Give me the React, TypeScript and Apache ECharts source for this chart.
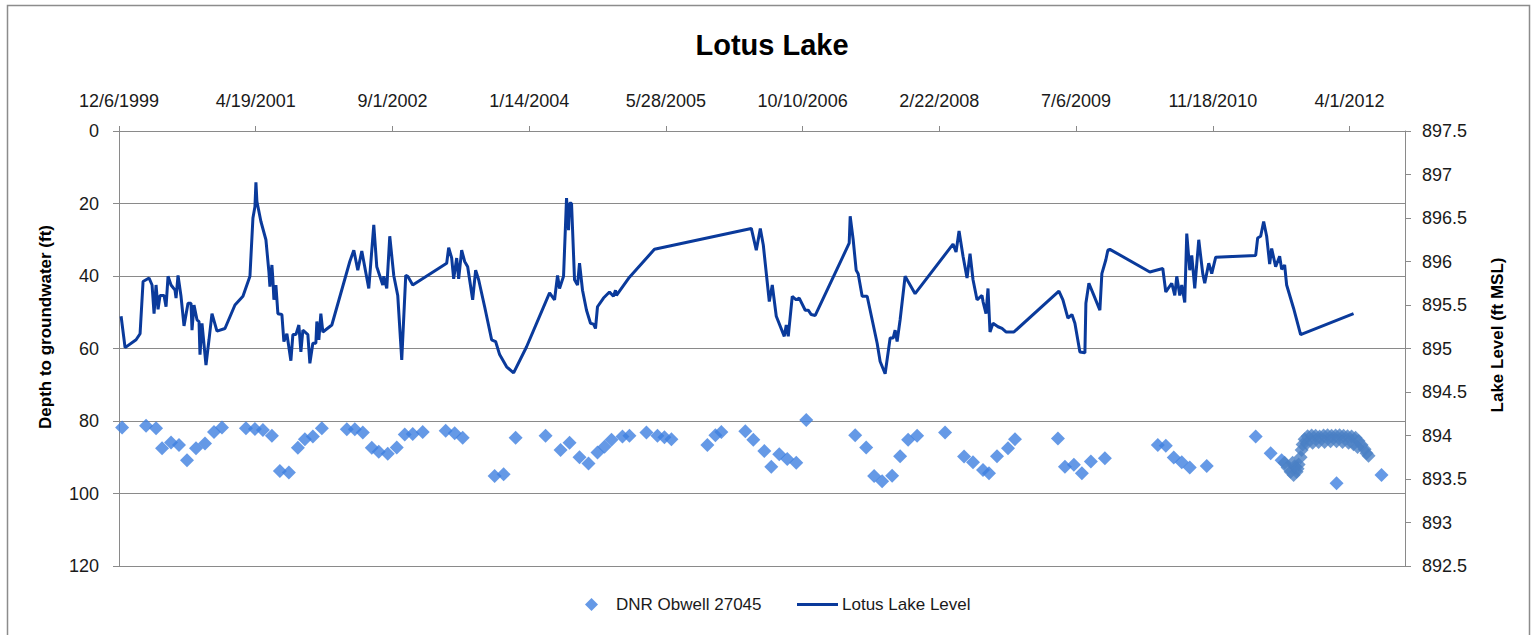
import React, { useEffect, useRef } from 'react';
import * as echarts from 'echarts';

// ---- axis settings (Excel serial dates on the date axis) ----
const dateAxisMin = 36500; // 12/6/1999
const dateAxisMax = 41203;
const dateAxisStep = 500;
const depthMin = 0;
const depthMax = 120;
const depthStep = 20;
const levelMin = 892.5;
const levelMax = 897.5;
const levelStep = 0.5;

// ---- Lotus Lake level (decimal year, ft MSL) ----
const lakeYears = [
  1999.95, 1999.99, 2000.10, 2000.14, 2000.17, 2000.23, 2000.26, 2000.28, 2000.30, 2000.32,
  2000.34, 2000.38, 2000.40, 2000.42, 2000.45, 2000.49, 2000.50, 2000.52, 2000.55, 2000.58,
  2000.62, 2000.65, 2000.66, 2000.68, 2000.71, 2000.73, 2000.74, 2000.76, 2000.80, 2000.83,
  2000.86, 2000.91, 2000.99, 2001.09, 2001.17, 2001.24, 2001.27, 2001.29, 2001.30, 2001.31,
  2001.35, 2001.40, 2001.43, 2001.44, 2001.46, 2001.47, 2001.48, 2001.50, 2001.52, 2001.56,
  2001.58, 2001.61, 2001.65, 2001.67, 2001.70, 2001.73, 2001.75, 2001.77, 2001.82, 2001.84,
  2001.87, 2001.90, 2001.91, 2001.93, 2001.95, 2001.97, 2002.06, 2002.24, 2002.28, 2002.32,
  2002.36, 2002.43, 2002.48, 2002.51, 2002.57, 2002.58, 2002.61, 2002.64, 2002.68, 2002.72,
  2002.76, 2002.80, 2002.82, 2002.87, 2003.21, 2003.23, 2003.26, 2003.28, 2003.31, 2003.33,
  2003.36, 2003.39, 2003.42, 2003.47, 2003.50, 2003.53, 2003.59, 2003.66, 2003.70, 2003.74,
  2003.81, 2003.88, 2004.01, 2004.24, 2004.29, 2004.32, 2004.34, 2004.38, 2004.41, 2004.43,
  2004.44, 2004.46, 2004.49, 2004.52, 2004.54, 2004.57, 2004.61, 2004.65, 2004.68, 2004.70,
  2004.72, 2004.78, 2004.84, 2004.88, 2004.90, 2004.91, 2005.04, 2005.29, 2006.26, 2006.31,
  2006.35, 2006.38, 2006.44, 2006.47, 2006.51, 2006.59, 2006.61, 2006.63, 2006.67, 2006.71,
  2006.74, 2006.80, 2006.83, 2006.86, 2006.90, 2007.24, 2007.25, 2007.28, 2007.31, 2007.33,
  2007.37, 2007.42, 2007.52, 2007.55, 2007.60, 2007.65, 2007.68, 2007.70, 2007.72, 2007.75,
  2007.80, 2007.90, 2008.28, 2008.31, 2008.34, 2008.38, 2008.42, 2008.45, 2008.48, 2008.52,
  2008.57, 2008.58, 2008.61, 2008.63, 2008.65, 2008.68, 2008.73, 2008.77, 2008.81, 2008.89,
  2009.34, 2009.38, 2009.43, 2009.47, 2009.50, 2009.55, 2009.60, 2009.61, 2009.64, 2009.69,
  2009.75, 2009.77, 2009.81, 2009.83, 2009.85, 2010.25, 2010.38, 2010.41, 2010.47, 2010.50,
  2010.52, 2010.55, 2010.57, 2010.60, 2010.62, 2010.65, 2010.67, 2010.70, 2010.74, 2010.78,
  2010.80, 2010.84, 2010.87, 2010.91, 2011.31, 2011.33, 2011.36, 2011.39, 2011.42, 2011.45,
  2011.47, 2011.51, 2011.55, 2011.57, 2011.60, 2011.62, 2011.69, 2011.76, 2012.29,
];
const lakeLevels = [
  895.37, 895.01, 895.10, 895.17, 895.77, 895.81, 895.73, 895.40, 895.73, 895.45,
  895.61, 895.61, 895.48, 895.83, 895.73, 895.67, 895.58, 895.84, 895.60, 895.26,
  895.52, 895.52, 895.21, 895.50, 895.33, 895.31, 894.93, 895.29, 894.81, 895.10,
  895.40, 895.20, 895.23, 895.50, 895.60, 895.83, 896.50, 896.63, 896.91, 896.69,
  896.46, 896.25, 895.88, 895.71, 895.96, 895.79, 895.56, 895.73, 895.40, 895.39,
  895.08, 895.17, 894.86, 895.16, 895.16, 895.27, 894.96, 895.21, 895.16, 894.83,
  895.06, 895.06, 895.31, 895.10, 895.40, 895.19, 895.27, 896.00, 896.13, 895.90,
  896.12, 895.69, 896.42, 895.94, 895.73, 895.83, 895.69, 896.29, 895.84, 895.61,
  894.87, 895.84, 895.83, 895.73, 895.98, 896.16, 896.04, 895.80, 896.04, 895.80,
  896.13, 896.00, 895.94, 895.56, 895.90, 895.79, 895.48, 895.10, 895.08, 894.93,
  894.79, 894.72, 895.02, 895.64, 895.56, 895.84, 895.69, 895.83, 896.73, 896.36,
  896.67, 896.67, 895.79, 895.73, 895.98, 895.67, 895.44, 895.29, 895.28, 895.23,
  895.48, 895.58, 895.65, 895.60, 895.67, 895.61, 895.82, 896.14, 896.38, 896.13,
  896.38, 896.19, 895.54, 895.73, 895.37, 895.14, 895.27, 895.14, 895.60, 895.56,
  895.58, 895.44, 895.44, 895.39, 895.38, 896.21, 896.52, 896.25, 895.90, 895.86,
  895.60, 895.60, 895.06, 894.85, 894.71, 895.12, 895.12, 895.21, 895.08, 895.33,
  895.83, 895.63, 896.20, 896.11, 896.35, 896.06, 895.81, 896.09, 895.79, 895.56,
  895.61, 895.54, 895.40, 895.69, 895.19, 895.29, 895.25, 895.23, 895.19, 895.19,
  895.66, 895.56, 895.35, 895.39, 895.29, 894.96, 894.95, 895.52, 895.75, 895.61,
  895.44, 895.86, 896.02, 896.13, 896.14, 895.88, 895.92, 895.65, 895.75, 895.61,
  895.83, 895.61, 895.73, 895.53, 896.32, 895.90, 896.07, 895.69, 896.25, 895.86,
  895.75, 895.98, 895.86, 896.05, 896.07, 896.27, 896.29, 896.46, 896.29, 895.97,
  896.15, 895.94, 896.06, 895.91, 895.96, 895.73, 895.46, 895.16, 895.40,
];

// ---- DNR Obwell 27045, depth to groundwater (decimal year, ft) ----
const wellYears = [
  1999.96, 2000.20, 2000.30, 2000.36, 2000.45, 2000.53, 2000.61, 2000.70, 2000.79, 2000.88,
  2000.96, 2001.20, 2001.29, 2001.37, 2001.46, 2001.54, 2001.63, 2001.72, 2001.79, 2001.87,
  2001.96, 2002.21, 2002.29, 2002.37, 2002.46, 2002.53, 2002.62, 2002.71, 2002.79, 2002.87,
  2002.97, 2003.20, 2003.29, 2003.37, 2003.69, 2003.78, 2003.90, 2004.20, 2004.35, 2004.44,
  2004.54, 2004.63, 2004.72, 2004.79, 2004.86, 2004.97, 2005.04, 2005.21, 2005.32, 2005.39,
  2005.46, 2005.82, 2005.90, 2005.96, 2006.20, 2006.28, 2006.39, 2006.46, 2006.54, 2006.62,
  2006.71, 2006.81, 2007.30, 2007.41, 2007.49, 2007.57, 2007.67, 2007.75, 2007.83, 2007.92,
  2008.20, 2008.39, 2008.48, 2008.58, 2008.64, 2008.72, 2008.83, 2008.90, 2009.33, 2009.40,
  2009.49, 2009.57, 2009.66, 2009.80, 2010.33, 2010.41, 2010.49, 2010.57, 2010.65, 2010.82,
  2011.31, 2011.46, 2011.57, 2012.12, 2012.57,
];
const wellDepths = [
  81.8, 81.3, 82.0, 87.5, 85.9, 86.6, 90.8, 87.5, 86.2, 83.0,
  81.8, 82.0, 82.2, 82.5, 84.1, 93.8, 94.2, 87.4, 85.0, 84.3,
  82.0, 82.3, 82.3, 83.2, 87.4, 88.5, 89.0, 87.3, 83.7, 83.6,
  83.0, 82.7, 83.4, 84.6, 95.2, 94.7, 84.6, 84.1, 88.0, 86.0,
  90.0, 91.7, 88.7, 87.1, 85.2, 84.3, 84.1, 83.2, 84.1, 84.5,
  85.0, 86.6, 83.9, 83.0, 82.8, 85.2, 88.3, 92.6, 89.2, 90.5,
  91.5, 79.7, 83.9, 87.3, 95.2, 96.6, 95.1, 89.7, 85.2, 84.1,
  83.2, 89.8, 91.4, 93.5, 94.4, 89.7, 87.5, 85.0, 84.8, 92.6,
  92.1, 94.4, 91.2, 90.3, 86.6, 86.8, 90.1, 91.4, 92.8, 92.4,
  84.3, 88.9, 90.8, 97.2, 94.9,
];
// dense logger readings at the end of the record
const loggerYears = [
  2011.60, 2011.63, 2011.66, 2011.69, 2011.72, 2011.70, 2011.74, 2011.76, 2011.77, 2011.78,
  2011.80, 2011.68, 2011.73, 2011.83, 2011.87, 2011.91, 2011.95, 2011.99, 2012.03, 2012.07,
  2012.11, 2012.15, 2012.19, 2012.23, 2012.27, 2012.31, 2012.34, 2012.37, 2012.40, 2012.42,
  2012.44, 2011.82, 2011.88, 2011.94, 2012.00, 2012.06, 2012.12, 2012.18, 2012.24, 2012.29,
  2012.33,
];
const loggerDepths = [
  91.5, 92.8, 94.0, 94.9, 94.0, 92.5, 92.0, 90.0, 88.0, 86.5,
  85.0, 91.5, 93.2, 84.2, 84.0, 84.1, 84.3, 84.0, 83.9, 84.1,
  84.0, 83.9, 84.1, 84.2, 84.3, 84.6, 85.5, 86.6, 87.8, 88.9,
  89.6, 86.2, 86.0, 85.8, 85.8, 85.6, 85.6, 85.8, 86.0, 86.4,
  87.2,
];

const FONT = '"Liberation Sans", Arial, sans-serif';

const yearToSerial = (y: number) => dateAxisMin + (y - 1999.929) * 365.25;
const serialToLabel = (v: number) => {
  const d = new Date(Date.UTC(1899, 11, 30) + Math.round(v) * 86400000);
  return `${d.getUTCMonth() + 1}/${d.getUTCDate()}/${d.getUTCFullYear()}`;
};

export default function App() {
  const ref = useRef<HTMLDivElement>(null);
  useEffect(() => {
    if (!ref.current) return;
    const chart = echarts.init(ref.current, undefined, { renderer: 'svg' });
    const lakeData = lakeYears.map((y, i) => [yearToSerial(y), lakeLevels[i]]);
    const wellData: any[] = wellYears.map((y, i) => [yearToSerial(y), wellDepths[i]]);
    loggerYears.forEach((y, i) => {
      wellData.push({ value: [yearToSerial(y), loggerDepths[i]], itemStyle: { color: '#4a7fc4' } });
    });
    const axisGray = '#8a8a8a';
    chart.setOption({
      animation: false,
      backgroundColor: '#ffffff',
      title: {
        text: 'Lotus Lake',
        left: 767,
        top: 25,
        textAlign: 'center',
        textStyle: { fontFamily: FONT, fontSize: 29, fontWeight: 'bold', color: '#000' },
      },
      grid: { left: 119, right: 127, top: 131, bottom: 69, containLabel: false },
      legend: [
        {
          data: [{ name: 'DNR Obwell 27045', icon: 'diamond' }],
          left: 580,
          top: 591,
          itemWidth: 13,
          itemHeight: 13,
          selectedMode: false,
          textStyle: { fontFamily: FONT, fontSize: 17, color: '#1a1a1a', padding: [0, 0, 0, 13] },
        },
        {
          data: [{ name: 'Lotus Lake Level', icon: 'rect' }],
          left: 792,
          top: 591,
          itemWidth: 41,
          itemHeight: 3,
          selectedMode: false,
          textStyle: { fontFamily: FONT, fontSize: 17, color: '#1a1a1a', padding: [0, 0, 0, -1] },
        },
      ],
      xAxis: {
        type: 'value',
        position: 'top',
        min: dateAxisMin,
        max: dateAxisMax,
        interval: dateAxisStep,
        axisLine: { show: true, lineStyle: { color: axisGray, width: 1 } },
        axisTick: { show: true, inside: false, length: 5, lineStyle: { color: axisGray } },
        axisLabel: {
          formatter: (v: number) => serialToLabel(v),
          showMaxLabel: false,
          margin: 21,
          fontFamily: FONT,
          fontSize: 18,
          color: '#1a1a1a',
        },
        splitLine: { show: false },
      },
      yAxis: [
        {
          type: 'value',
          position: 'left',
          inverse: true,
          min: depthMin,
          max: depthMax,
          interval: depthStep,
          axisLine: { show: true, lineStyle: { color: axisGray, width: 1 } },
          axisTick: { show: true, inside: false, length: 6, lineStyle: { color: axisGray } },
          axisLabel: { margin: 20, fontFamily: FONT, fontSize: 18, color: '#1a1a1a' },
          splitLine: { show: true, lineStyle: { color: axisGray, width: 1 } },
        },
        {
          type: 'value',
          position: 'right',
          min: levelMin,
          max: levelMax,
          interval: levelStep,
          axisLine: { show: true, lineStyle: { color: axisGray, width: 1 } },
          axisTick: { show: true, inside: false, length: 6, lineStyle: { color: axisGray } },
          axisLabel: { margin: 17, fontFamily: FONT, fontSize: 18, color: '#1a1a1a' },
          splitLine: { show: false },
        },
      ],
      graphic: [
        {
          type: 'rect',
          shape: { x: 7.5, y: 5.5, width: 1522, height: 640 },
          style: { fill: 'none', stroke: '#8c8c8c', lineWidth: 1.5 },
          silent: true,
        },
        {
          type: 'text',
          x: 45,
          y: 327,
          rotation: Math.PI / 2,
          style: {
            text: 'Depth to groundwater (ft)',
            font: `bold 17px ${FONT}`,
            fill: '#000',
            align: 'center',
            verticalAlign: 'middle',
          },
        },
        {
          type: 'text',
          x: 1497,
          y: 335,
          rotation: Math.PI / 2,
          style: {
            text: 'Lake Level (ft MSL)',
            font: `bold 17px ${FONT}`,
            fill: '#000',
            align: 'center',
            verticalAlign: 'middle',
          },
        },
      ],
      series: [
        {
          name: 'DNR Obwell 27045',
          type: 'scatter',
          xAxisIndex: 0,
          yAxisIndex: 0,
          symbol: 'diamond',
          symbolSize: 14,
          itemStyle: { color: '#3f80e0' },
          data: wellData,
          z: 2,
        },
        {
          name: 'Lotus Lake Level',
          type: 'line',
          xAxisIndex: 0,
          yAxisIndex: 1,
          symbol: 'none',
          showSymbol: false,
          lineStyle: { color: '#0a3a9b', width: 3 },
          itemStyle: { color: '#0a3a9b' },
          data: lakeData,
          z: 3,
        },
      ],
    });
    return () => chart.dispose();
  }, []);
  return (
    <div
      ref={ref}
      style={{ position: 'fixed', left: 0, top: 0, width: 1532, height: 635, background: '#fff' }}
    />
  );
}
